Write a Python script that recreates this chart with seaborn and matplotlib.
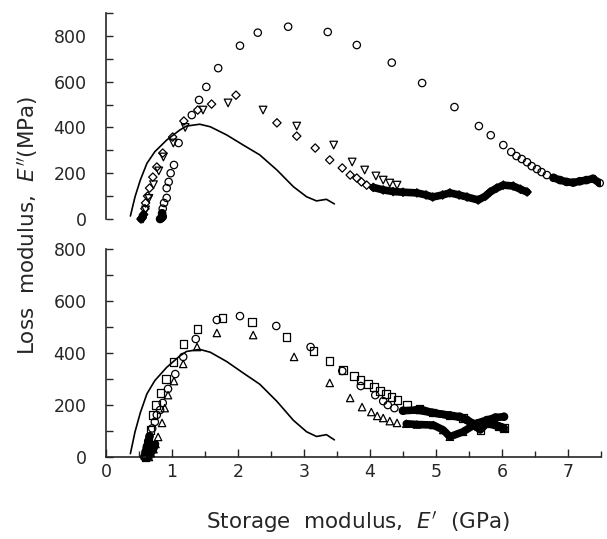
import numpy as np
import pandas as pd
import matplotlib
matplotlib.use("Agg")
import matplotlib.pyplot as plt
from matplotlib.ticker import MultipleLocator
import seaborn as sns

# ── data ──────────────────────────────────────────────────────────────────────

# reference curve, same in both panels
curve_x = [0.37, 0.44, 0.52, 0.62, 0.74, 0.92, 1.12, 1.22, 1.42, 1.58, 1.83,
           2.08, 2.33, 2.59, 2.84, 3.04, 3.19, 3.34, 3.46]
curve_y = [13, 97, 170, 243, 294, 345, 389, 406, 414, 403, 367,
           323, 280, 214, 141, 97, 79, 86, 66]

# top panel: circles
top_circ_x = [0.82, 0.84, 0.86, 0.85, 0.86, 0.88, 0.92, 0.92, 0.95, 0.98, 1.03,
              1.10, 1.30, 1.41, 1.52, 1.70, 2.03, 2.30, 2.76, 3.36, 3.80, 4.33,
              4.79, 5.28, 5.65, 5.83, 6.02, 6.14, 6.22, 6.30, 6.38, 6.45, 6.53,
              6.60, 6.68, 6.78, 6.88, 6.98, 7.08, 7.18, 7.28, 7.38, 7.48]
top_circ_y = [0, 4, 10, 25, 45, 70, 92, 135, 162, 200, 236,
              332, 454, 520, 577, 659, 757, 814, 840, 817, 760, 683,
              594, 489, 406, 366, 323, 293, 275, 262, 248, 231, 218,
              205, 192, 180, 170, 162, 159, 165, 170, 176, 157]

# top panel: diamonds
top_diam_x = [0.53, 0.55, 0.57, 0.59, 0.60, 0.63, 0.66, 0.71, 0.77, 0.86, 1.01,
              1.18, 1.39, 1.60, 1.97, 2.59, 2.89, 3.17, 3.39, 3.58, 3.70, 3.80,
              3.87, 3.95, 4.05, 4.20, 4.35, 4.50, 4.71, 4.85, 4.95, 5.10, 5.21,
              5.35, 5.47, 5.64, 5.75, 5.82, 5.92, 6.02, 6.17, 6.28, 6.38]
top_diam_y = [0, 5, 20, 45, 70, 100, 135, 183, 227, 288, 358,
              428, 476, 502, 541, 420, 362, 310, 258, 223, 192, 179,
              162, 148, 138, 127, 120, 117, 114, 105, 96, 105, 114,
              105, 96, 83, 100, 118, 135, 148, 144, 130, 118]

# top panel: down triangles
top_tri_x = [0.56, 0.60, 0.65, 0.72, 0.80, 0.87, 1.02, 1.20, 1.47, 1.85, 2.38,
             2.89, 3.45, 3.73, 3.92, 4.09, 4.20, 4.30, 4.41]
top_tri_y = [0, 40, 90, 150, 210, 271, 332, 400, 476, 507, 476,
             406, 323, 249, 214, 188, 170, 157, 148]

# bottom panel: circles
bot_circ_x = [0.58, 0.60, 0.62, 0.64, 0.66, 0.70, 0.74, 0.77, 0.82, 0.86, 0.94,
              1.05, 1.17, 1.36, 1.68, 2.03, 2.58, 3.10, 3.58, 3.86, 4.08, 4.20,
              4.27, 4.37, 4.50, 4.71, 4.95, 5.21, 5.36, 5.47, 5.62, 5.77, 5.90,
              6.03]
bot_circ_y = [0, 20, 40, 60, 80, 110, 135, 162, 181, 208, 262,
              319, 385, 454, 527, 542, 504, 423, 331, 273, 238, 215,
              200, 188, 178, 181, 170, 160, 155, 142, 115, 142, 152,
              155]

# bottom panel: squares
bot_sq_x = [0.60, 0.62, 0.64, 0.67, 0.71, 0.76, 0.83, 0.91, 1.02, 1.17, 1.39,
            1.77, 2.21, 2.74, 3.14, 3.39, 3.59, 3.76, 3.86, 3.97, 4.06, 4.15,
            4.24, 4.33, 4.42, 4.56, 4.75, 4.95, 5.21, 5.41, 5.56, 5.67, 5.77,
            5.95, 6.03]
bot_sq_y = [0, 30, 60, 104, 162, 200, 246, 300, 365, 435, 492,
            535, 519, 462, 408, 369, 335, 312, 296, 281, 269, 254,
            242, 231, 219, 200, 185, 170, 160, 150, 130, 104, 130,
            117, 112]

# bottom panel: up triangles
bot_tri_x = [0.65, 0.68, 0.72, 0.75, 0.79, 0.85, 0.89, 0.94, 1.03, 1.17, 1.38,
             1.68, 2.23, 2.85, 3.39, 3.70, 3.88, 4.02, 4.11, 4.20, 4.30, 4.41,
             4.55, 4.71, 4.96, 5.11, 5.21, 5.41, 5.62, 5.77, 5.97, 6.03]
bot_tri_y = [0, 15, 30, 50, 77, 131, 188, 238, 292, 358, 423,
             477, 469, 385, 285, 227, 192, 173, 158, 150, 138, 131,
             128, 125, 123, 104, 78, 97, 130, 142, 117, 112]

x_ticks = [0, 1, 2, 3, 4, 5, 6, 7]
y_ticks = [0, 200, 400, 600, 800]


# ── style ────────────────────────────────────────────────────────────────────

sns.set_style("ticks")
plt.rcParams['font.family'] = ['DejaVu Sans']
plt.rcParams['mathtext.fontset'] = 'dejavusans'

fig = plt.figure(figsize=(6.07, 5.39), dpi=100)
ax_top = fig.add_axes([0.1746, 0.5937, 0.8155, 0.3822])
ax_bot = fig.add_axes([0.1746, 0.1521, 0.8155, 0.3859])


def draw_series(ax, xs, ys, marker, size, head=0, tail_from=None):
    df = pd.DataFrame({'x': xs, 'y': ys})
    # the scan shows crowded points as solid black smears
    if head:
        sns.lineplot(data=df.iloc[:head], x='x', y='y', ax=ax, color='black',
                     lw=5.5, sort=False, estimator=None,
                     solid_capstyle='round', clip_on=False)
    if tail_from is not None:
        tail = df[df.x >= tail_from]
        sns.lineplot(data=tail, x='x', y='y', ax=ax, color='black', lw=5.5,
                     sort=False, estimator=None, solid_capstyle='round')
    sns.scatterplot(data=df, x='x', y='y', ax=ax, marker=marker, s=size,
                    facecolor='none', edgecolor='black', linewidth=0.9,
                    clip_on=False, zorder=3)


for ax in (ax_top, ax_bot):
    sns.lineplot(x=curve_x, y=curve_y, ax=ax, color='black', lw=1.2,
                 sort=False, estimator=None)

draw_series(ax_top, top_circ_x, top_circ_y, 'o', 28, head=4, tail_from=6.7)
draw_series(ax_top, top_diam_x, top_diam_y, 'D', 18, head=3, tail_from=4.0)
draw_series(ax_top, top_tri_x, top_tri_y, 'v', 30)

draw_series(ax_bot, bot_circ_x, bot_circ_y, 'o', 28, head=5, tail_from=4.5)
draw_series(ax_bot, bot_sq_x, bot_sq_y, 's', 28, head=3, tail_from=4.7)
draw_series(ax_bot, bot_tri_x, bot_tri_y, '^', 28, head=4, tail_from=4.5)


# ── axes ─────────────────────────────────────────────────────────────────────

for ax in (ax_top, ax_bot):
    ax.set_xlim(0, 7.5)
    ax.set_xlabel('')
    ax.set_ylabel('')
    ax.set_yticks(y_ticks)
    ax.yaxis.set_minor_locator(MultipleLocator(100))
    ax.spines['top'].set_visible(False)
    ax.spines['right'].set_visible(False)
    ax.tick_params(axis='y', which='both', direction='in', length=5,
                   width=1, labelsize=12.5, pad=14)
    ax.spines['left'].set_linewidth(1.2)

ax_top.set_ylim(0, 900)
ax_top.spines['bottom'].set_visible(False)
ax_top.set_xticks([])

ax_bot.set_ylim(0, 800)
ax_bot.set_xticks(x_ticks)
ax_bot.xaxis.set_minor_locator(MultipleLocator(0.5))
ax_bot.spines['bottom'].set_linewidth(1.2)
ax_bot.tick_params(axis='x', which='major', direction='in', length=6,
                   width=1, labelsize=12.5, pad=4)
ax_bot.tick_params(axis='x', which='minor', direction='in', length=4, width=1)

fig.text(0.045, 0.583, "Loss  modulus,  $E''$(MPa)", rotation=90,
         ha='center', va='center', fontsize=15.5)
fig.text(0.590, 0.032, "Storage  modulus,  $E'$  (GPa)",
         ha='center', va='center', fontsize=15.5)

plt.savefig('out.png', dpi=100)
plt.close()
